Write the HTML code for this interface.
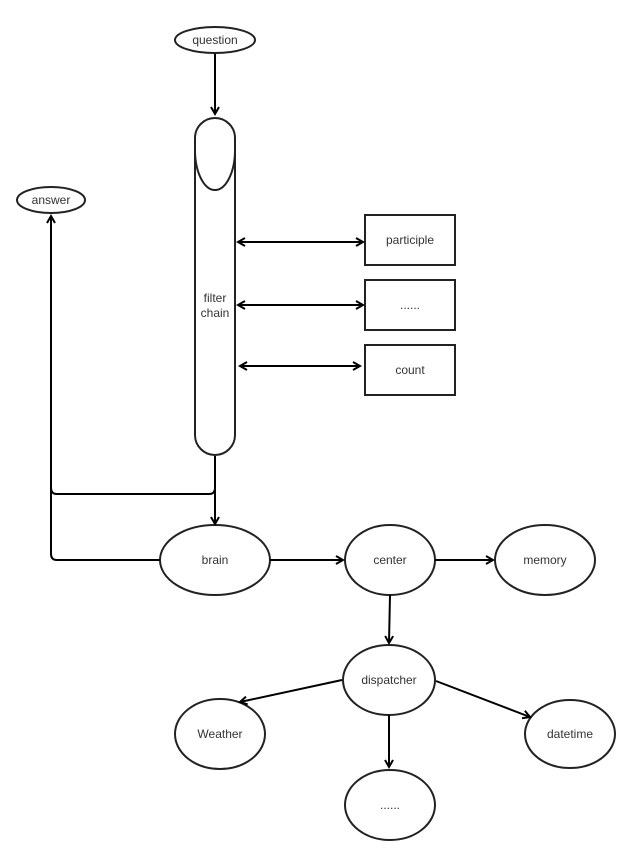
<!DOCTYPE html>
<html><head><style>body{margin:0;background:#fff}svg{display:block}</style></head><body>
<svg width="630" height="858" viewBox="0 0 630 858" xmlns="http://www.w3.org/2000/svg" font-family="Liberation Sans, sans-serif" font-size="12" fill="#333">
<defs><marker id="a" markerWidth="10" markerHeight="10" refX="8" refY="5" orient="auto-start-reverse" markerUnits="userSpaceOnUse"><path d="M1,1 L8,5 L1,9" fill="none" stroke="#000" stroke-width="2"/></marker></defs>
<g stroke="#222" stroke-width="2" fill="#fff">
<ellipse cx="215" cy="40" rx="40" ry="13"/>
<ellipse cx="51" cy="200" rx="34" ry="13"/>
<rect x="195" y="118" width="40" height="337" rx="20" ry="20"/>
<path d="M195,150 A20,40 0 0 0 235,150" fill="none"/>
<rect x="365" y="215" width="90" height="50"/>
<rect x="365" y="280" width="90" height="50"/>
<rect x="365" y="345" width="90" height="50"/>
<ellipse cx="215" cy="560" rx="55" ry="35"/>
<ellipse cx="390" cy="560" rx="45" ry="35"/>
<ellipse cx="545" cy="560" rx="50" ry="35"/>
<ellipse cx="389" cy="680" rx="46" ry="35"/>
<ellipse cx="220" cy="734" rx="45" ry="35"/>
<ellipse cx="570" cy="734" rx="45" ry="34"/>
<ellipse cx="390" cy="805" rx="45" ry="35"/>
</g>
<g stroke="#000" stroke-width="2" fill="none">
<line x1="215" y1="54" x2="215" y2="114" marker-end="url(#a)"/>
<line x1="238" y1="242" x2="363" y2="242" marker-start="url(#a)" marker-end="url(#a)"/>
<line x1="238" y1="305" x2="363" y2="305" marker-start="url(#a)" marker-end="url(#a)"/>
<line x1="240" y1="366" x2="360" y2="366" marker-start="url(#a)" marker-end="url(#a)"/>
<line x1="215" y1="456" x2="215" y2="524" marker-end="url(#a)"/>
<path d="M215,456 V488 Q215,494 209,494 H57 Q51,494 51,488"/>
<path d="M160,560 H57 Q51,560 51,554 V216" marker-end="url(#a)"/>
<line x1="270" y1="560" x2="343" y2="560" marker-end="url(#a)"/>
<line x1="435" y1="560" x2="493" y2="560" marker-end="url(#a)"/>
<line x1="390" y1="595" x2="389" y2="643" marker-end="url(#a)"/>
<line x1="342" y1="680" x2="240" y2="702" marker-end="url(#a)"/>
<line x1="436" y1="681" x2="530" y2="717" marker-end="url(#a)"/>
<line x1="389" y1="715" x2="389" y2="767" marker-end="url(#a)"/>
</g>
<g text-anchor="middle">
<text x="215" y="44">question</text>
<text x="51" y="204">answer</text>
<text x="215" y="302">filter</text>
<text x="215" y="317">chain</text>
<text x="410" y="244">participle</text>
<text x="410" y="309">......</text>
<text x="410" y="374">count</text>
<text x="215" y="564">brain</text>
<text x="390" y="564">center</text>
<text x="545" y="564">memory</text>
<text x="389" y="684">dispatcher</text>
<text x="220" y="738">Weather</text>
<text x="570" y="738">datetime</text>
<text x="390" y="809">......</text>
</g>
</svg>
</body></html>
